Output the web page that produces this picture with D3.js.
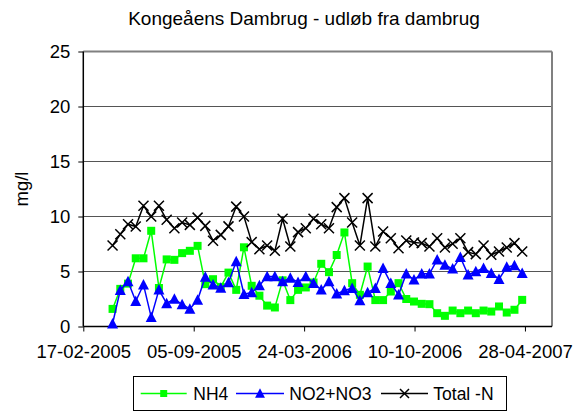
<!DOCTYPE html>
<html>
<head>
<meta charset="utf-8">
<script src="https://cdn.jsdelivr.net/npm/d3@7"></script>
<style>
  html, body { margin: 0; padding: 0; background: #fff; }
  svg { display: block; font-family: "Liberation Sans", Arial, sans-serif; }
</style>
</head>
<body>
<svg id="chart" width="580" height="414"></svg>
<script>
// ---- data ----
const title = "Kongeåens Dambrug - udløb fra dambrug";
const yLabel = "mg/l";
const dates = [
  "2005-04-11","2005-04-25","2005-05-09","2005-05-23","2005-06-06","2005-06-20","2005-07-04","2005-07-18",
  "2005-08-01","2005-08-15","2005-08-29","2005-09-12","2005-09-26","2005-10-10","2005-10-24","2005-11-07",
  "2005-11-21","2005-12-05","2005-12-19","2006-01-02","2006-01-16","2006-01-30","2006-02-13","2006-02-27",
  "2006-03-13","2006-03-27","2006-04-10","2006-04-24","2006-05-08","2006-05-22","2006-06-05","2006-06-19",
  "2006-07-03","2006-07-17","2006-07-31","2006-08-14","2006-08-28","2006-09-11","2006-09-25","2006-10-09",
  "2006-10-23","2006-11-06","2006-11-20","2006-12-04","2006-12-18","2007-01-01","2007-01-15","2007-01-29",
  "2007-02-12","2007-02-26","2007-03-12","2007-03-26","2007-04-09","2007-04-23"
];
const nh4 = [
  1.6, 3.42, 3.9, 6.2, 6.2, 8.7, 3.5, 6.1, 6.06, 6.67, 6.88, 7.33, 3.85, 4.3, 3.6, 4.9,
  3.33, 7.2, 3.7, 2.8, 1.9, 1.73, 4.2, 2.4, 3.33, 3.55, 4.0, 5.7, 4.94, 6.5, 8.55, 3.94,
  2.88, 5.45, 2.4, 2.4, 3.18, 3.94, 2.5, 2.27, 2.06, 2.03, 1.21, 0.97, 1.45, 1.21, 1.45, 1.21,
  1.45, 1.36, 1.82, 1.27, 1.52, 2.42
];
const no2no3 = [
  0.25, 3.3, 4.1, 2.3, 3.8, 0.85, 3.33, 2.1, 2.5, 2.0, 1.6, 2.4, 4.5, 3.8, 3.5, 4.0,
  5.9, 2.94, 3.09, 3.73, 4.55, 4.55, 4.1, 4.4, 4.03, 4.55, 3.94, 3.33, 4.1, 2.97, 3.27, 3.48,
  2.36, 3.09, 3.48, 5.3, 3.94, 2.88, 4.79, 4.24, 4.79, 4.79, 6.06, 5.6, 5.24, 6.3, 4.7, 5.0,
  5.3, 4.85, 4.3, 5.4, 5.55, 4.85
];
const totalN = [
  7.36, 8.39, 9.3, 9.09, 10.97, 10.0, 10.97, 9.7, 8.94, 9.45, 9.24, 9.9, 9.15, 7.8, 8.33, 9.1,
  10.9, 10.0, 7.67, 7.03, 7.36, 6.88, 9.79, 7.27, 8.58, 8.94, 9.79, 9.3, 8.94, 10.85, 11.67, 9.45,
  7.36, 11.67, 7.27, 8.64, 8.03, 7.12, 7.82, 7.64, 7.58, 7.27, 8.03, 7.18, 7.52, 8.03, 6.76, 6.58,
  7.36, 6.52, 6.82, 7.18, 7.58, 6.82
];
const seriesNames = ["NH4", "NO2+NO3", "Total -N"];
const xTickLabels = ["17-02-2005", "05-09-2005", "24-03-2006", "10-10-2006", "28-04-2007"];
const xDomainLabels = ["17-02-2005", "16-06-2007"];
const yTicks = [0, 5, 10, 15, 20, 25];

// ---- layout ----
const L = 83.3, R = 552, T = 51.5, B = 326.5;
const FS = 18.5;
const svg = d3.select("#chart");
const parseISO = d3.utcParse("%Y-%m-%d");
const parseDMY = d3.utcParse("%d-%m-%Y");
const fmtDMY = d3.utcFormat("%d-%m-%Y");

const x = d3.scaleUtc().domain(xDomainLabels.map(parseDMY)).range([L, R]);
const y = d3.scaleLinear().domain([0, 25]).range([B, T]);

// gridlines
svg.append("g").selectAll("line").data(yTicks.filter(v => v > 0 && v < 25)).join("line")
  .attr("x1", L).attr("x2", R).attr("y1", d => y(d)).attr("y2", d => y(d))
  .attr("stroke", "#555").attr("stroke-width", 1);
// frame top and right
svg.append("line").attr("x1", L).attr("x2", R).attr("y1", y(25)).attr("y2", y(25))
  .attr("stroke", "#808080").attr("stroke-width", 2);
svg.append("line").attr("x1", R).attr("x2", R).attr("y1", T).attr("y2", B)
  .attr("stroke", "#808080").attr("stroke-width", 2);

// axes
const yAxis = svg.append("g").attr("transform", `translate(${L},0)`)
  .call(d3.axisLeft(y).tickValues(yTicks).tickSize(5).tickPadding(8).tickSizeOuter(0));
const xAxis = svg.append("g").attr("transform", `translate(0,${B})`)
  .call(d3.axisBottom(x).tickValues(xTickLabels.map(parseDMY)).tickFormat(fmtDMY)
    .tickSize(5).tickPadding(13.5).tickSizeOuter(0));
[yAxis, xAxis].forEach(g => {
  g.selectAll("path.domain").attr("stroke", "#000").attr("stroke-width", 1.5);
  g.selectAll(".tick line").attr("stroke", "#000").attr("stroke-width", 1);
  g.selectAll("text").attr("font-size", FS).attr("fill", "#000")
    .attr("font-family", "'Liberation Sans', Arial, sans-serif");
});
yAxis.select("path.domain").attr("d", `M0,${T}V${B}`);
xAxis.select("path.domain").attr("d", `M${L},0H${R}`);

// title and y label
svg.append("text").attr("x", 304).attr("y", 25).attr("text-anchor", "middle")
  .attr("font-size", 19).attr("fill", "#000").text(title);
svg.append("text").attr("transform", `translate(28,${(T + B) / 2}) rotate(-90)`)
  .attr("text-anchor", "middle").attr("font-size", FS).attr("fill", "#000").text(yLabel);

// series
const xs = dates.map(parseISO);
const series = [
  { name: seriesNames[0], values: nh4, color: "#00FF00", marker: "square" },
  { name: seriesNames[1], values: no2no3, color: "#0000FF", marker: "triangle" },
  { name: seriesNames[2], values: totalN, color: "#000000", marker: "x" }
];
function drawMarker(g, type, color, cx, cy, s) {
  if (type === "square") {
    g.append("rect").attr("x", cx - s / 2).attr("y", cy - s / 2).attr("width", s).attr("height", s)
      .attr("fill", color);
  } else if (type === "triangle") {
    const h = s * 0.95, w = s * 1.1;
    g.append("path").attr("d", `M${cx},${cy - h / 2 - 1}L${cx + w / 2},${cy + h / 2}L${cx - w / 2},${cy + h / 2}Z`)
      .attr("fill", color);
  } else {
    const r = s / 2;
    g.append("path").attr("d", `M${cx - r},${cy - r}L${cx + r},${cy + r}M${cx - r},${cy + r}L${cx + r},${cy - r}`)
      .attr("stroke", color).attr("stroke-width", 1.5).attr("fill", "none");
  }
}
const line = d3.line().x(d => x(d[0])).y(d => y(d[1]));
series.forEach(s => {
  const pts = xs.map((d, i) => [d, s.values[i]]);
  const g = svg.append("g");
  g.append("path").datum(pts).attr("d", line).attr("fill", "none")
    .attr("stroke", s.color).attr("stroke-width", 1.5);
  const size = s.marker === "square" ? 8 : (s.marker === "triangle" ? 10 : 10);
  pts.forEach(p => drawMarker(g, s.marker, s.color, x(p[0]), y(p[1]), size));
});

// legend
const lg = svg.append("g");
lg.append("rect").attr("x", 133.5).attr("y", 376.5).attr("width", 373).attr("height", 34)
  .attr("fill", "#fff").attr("stroke", "#000").attr("stroke-width", 1);
const legendPos = [
  { x1: 140.7, x2: 186.7, tx: 193.3 },
  { x1: 236, x2: 284, tx: 289.3 },
  { x1: 381, x2: 428, tx: 433.3 }
];
series.forEach((s, i) => {
  const p = legendPos[i];
  const ly = 393.5;
  lg.append("line").attr("x1", p.x1).attr("x2", p.x2).attr("y1", ly).attr("y2", ly)
    .attr("stroke", s.color).attr("stroke-width", 1.5);
  drawMarker(lg, s.marker, s.color, (p.x1 + p.x2) / 2, ly, s.marker === "square" ? 7 : 9);
  lg.append("text").attr("x", p.tx).attr("y", 400).attr("font-size", 17.5).attr("fill", "#000").text(s.name);
});
</script>
</body>
</html>
